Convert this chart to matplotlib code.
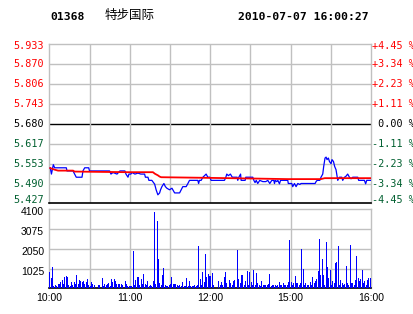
import matplotlib
matplotlib.use("Agg")
import matplotlib.pyplot as plt
import matplotlib.transforms as mtransforms
import numpy as np

stock_code = "01368"
stock_name = "特步国际"
stamp = "2010-07-07 16:00:27"

price_levels = [5.933, 5.870, 5.806, 5.743, 5.680, 5.617, 5.553, 5.490, 5.427]
price_labels = ["5.933", "5.870", "5.806", "5.743", "5.680", "5.617", "5.553", "5.490", "5.427"]
pct_labels = ["+4.45 %", "+3.34 %", "+2.23 %", "+1.11 %", " 0.00 %",
              "-1.11 %", "-2.23 %", "-3.34 %", "-4.45 %"]
level_kind = ["up", "up", "up", "up", "flat", "down", "down", "down", "down"]

vol_ticks = [1025, 2050, 3075, 4100]
vol_labels = ["1025", "2050", "3075", "4100"]
time_ticks = [0, 60, 120, 180, 240]
time_labels = ["10:00", "11:00", "12:00", "15:00", "16:00"]

# minutes since 10:00 (continuous trading minutes) and price
price_minutes = [0.7, 1.6, 3.0, 4.0, 12.7, 13.2, 17.7, 18.9, 20.1, 24.4, 25.1, 26.4, 29.4, 30.0,
                 30.9, 38.0, 45.0, 46.0, 47.5, 50.5, 52.7, 56.4, 57.2, 58.7, 59.4, 60.9,
                 61.6, 63.9, 66.1, 68.3, 71.1, 71.7, 73.6, 74.3, 76.5, 78.6, 79.7, 81.0,
                 82.3, 83.0, 84.0, 85.5, 86.6, 87.7, 89.7, 91.5, 93.5, 97.2, 98.4, 99.6,
                 102.1, 103.4, 104.6, 110.8, 111.4, 112.0, 113.3, 114.6, 117.0, 118.3,
                 119.8, 120.7, 130.7, 131.7, 132.4, 133.6, 135.1, 136.5, 137.7, 140.1,
                 140.6, 141.4, 142.7, 143.1, 146.1, 146.6, 151.8, 152.6, 153.5, 154.4,
                 155.5, 157.0, 159.3, 161.5, 163.0, 164.5, 166.0, 167.5, 168.0, 168.6,
                 169.7, 170.5, 171.7, 172.5, 177.9, 178.3, 180.9, 181.6, 182.9, 184.1,
                 185.4, 186.9, 187.8, 198.3, 199.0, 199.8, 201.8, 202.7, 204.0, 204.7,
                 205.7, 206.5, 207.2, 208.2, 209.0, 210.2, 210.9, 212.0, 212.9, 213.9,
                 214.7, 215.2, 216.4, 218.2, 218.9, 220.2, 221.1, 222.6, 223.9, 225.1,
                 226.4, 230.1, 230.8, 235.1, 236.0, 236.8, 239.8]
price_values = [5.540, 5.520, 5.550, 5.540, 5.540, 5.530, 5.530, 5.520, 5.510, 5.510, 5.530, 5.540,
                5.540, 5.530, 5.530, 5.530, 5.530, 5.520, 5.525, 5.520, 5.530, 5.530, 5.520,
                5.510, 5.520, 5.520, 5.525, 5.520, 5.523, 5.520, 5.520, 5.510, 5.510, 5.500,
                5.500, 5.488, 5.470, 5.454, 5.460, 5.470, 5.480, 5.490, 5.480, 5.475, 5.470,
                5.475, 5.460, 5.460, 5.470, 5.480, 5.480, 5.490, 5.500, 5.500, 5.490, 5.500,
                5.500, 5.510, 5.520, 5.510, 5.510, 5.500, 5.500, 5.510, 5.520, 5.515, 5.520,
                5.510, 5.510, 5.510, 5.500, 5.510, 5.520, 5.500, 5.500, 5.510, 5.510, 5.500,
                5.493, 5.500, 5.490, 5.500, 5.496, 5.496, 5.500, 5.490, 5.500, 5.500, 5.490,
                5.500, 5.496, 5.500, 5.489, 5.500, 5.500, 5.490, 5.490, 5.480, 5.490, 5.480,
                5.490, 5.487, 5.490, 5.490, 5.496, 5.500, 5.500, 5.510, 5.520, 5.544, 5.571,
                5.574, 5.566, 5.571, 5.560, 5.553, 5.566, 5.560, 5.544, 5.534, 5.512, 5.500,
                5.510, 5.510, 5.500, 5.510, 5.512, 5.520, 5.510, 5.505, 5.510, 5.510, 5.500,
                5.500, 5.489, 5.500, 5.500]

avg_minutes = [0.7, 4.0, 6.5, 17.7, 18.9, 37.8, 58.7, 77.3, 78.8, 81.0, 82.3, 83.5,
               118.3, 149.6, 177.9, 202.5, 205.5, 239.8]
avg_values = [5.539, 5.534, 5.531, 5.531, 5.528, 5.527, 5.526, 5.526, 5.521, 5.516, 5.512,
              5.510, 5.508, 5.506, 5.504, 5.504, 5.507, 5.507]

volumes = [830, 550, 1100, 140, 170, 100, 200, 240, 310, 415, 240, 590, 620, 590, 170, 100,
           310, 170, 310, 200, 690, 200, 415, 380, 310, 380, 200, 345, 485, 170, 100, 310,
           240, 170, 0, 0, 170, 170, 0, 550, 100, 240, 170, 240, 275, 100, 485, 345, 485,
           380, 240, 200, 240, 200, 170, 0, 380, 200, 140, 140, 100, 140,
           1940, 170, 415, 590, 590, 170, 485, 200, 725, 200, 170, 380, 140, 170, 100, 380,
           3980, 200, 3500, 1520, 275, 170, 690, 1040, 170, 140, 100, 170, 200, 590, 200,
           200, 200, 170, 100, 170, 100, 310, 100, 140, 520, 100, 380, 100, 100, 100, 170,
           140, 170, 2180, 485, 170, 830, 310, 1765, 590, 725, 620, 620, 780, 155, 0, 0, 0,
           400, 155, 330, 155, 570, 850, 290, 0, 430, 260, 155, 360, 430, 0, 1990, 465, 260,
           675, 710, 155, 360, 880, 155, 850, 330, 155, 950, 155, 780, 260, 155, 120, 400,
           155, 190, 155, 155, 225, 745, 120, 155, 190, 155, 120, 155, 330, 155, 155, 260,
           155, 190, 155, 330, 2510, 330, 155, 260, 640, 260, 260, 155, 290, 2060, 1020, 155,
           290, 155, 155, 330, 155, 600, 260, 360, 500, 880, 2540, 675, 1500, 710, 155, 2400,
           1090, 535, 950, 155, 360, 260, 1330, 1370, 2200, 155, 430, 260, 155, 225, 1160,
           290, 155, 2270, 290, 260, 155, 430, 1680, 535, 360, 500, 950, 290, 360, 155, 430,
           535, 535]

GRID = "#c0c0c0"
RED = "#ff0000"
GREEN = "#005f2f"
MONO = "DejaVu Sans Mono"
SANS = "Liberation Sans"

W, H = 414, 314
fig = plt.figure(figsize=(W / 100, H / 100), dpi=100)
fig.patch.set_facecolor("white")

L, R = 49.3, 371.0
ax = fig.add_axes([L / W, 1 - 203.3 / H, (R - L) / W, (203.3 - 44.3) / H])
axv = fig.add_axes([L / W, 1 - 288.3 / H, (R - L) / W, (288.3 - 209.3) / H])

# ---- price panel
ax.set_xlim(0, 240)
ax.set_ylim(price_levels[-1], price_levels[0])
for lv, kind in zip(price_levels[1:-1], level_kind[1:-1]):
    ax.axhline(lv, color="black" if kind == "flat" else GRID, lw=1.0, zorder=1)
for t in range(30, 240, 30):
    ax.axvline(t, color=GRID, lw=1.0, zorder=1)
for side in ["top", "left", "right"]:
    ax.spines[side].set_color(GRID)
    ax.spines[side].set_linewidth(1.0)
ax.spines["bottom"].set_color("black")
ax.spines["bottom"].set_linewidth(1.2)
ax.set_xticks([])
ax.set_yticks([])

ax.plot(price_minutes, price_values, color="#0000ff", lw=0.9, zorder=3)
ax.plot(avg_minutes, avg_values, color=RED, lw=1.3, zorder=4)

color_of = {"up": RED, "flat": "black", "down": GREEN}
ytr = ax.get_yaxis_transform()
n = len(price_levels)
for i, (lv, lbl, pl, kind) in enumerate(zip(price_levels, price_labels, pct_labels, level_kind)):
    c = color_of[kind]
    dy = -1.5 if i == 0 else (3 if i == n - 1 else 0)
    tr = mtransforms.offset_copy(ytr, fig=fig, x=0, y=dy, units="dots")
    ax.text(-0.016, lv, lbl, transform=tr, ha="right", va="center",
            color=c, fontfamily=MONO, fontsize=7.3)
    ax.text(1.003, lv, pl, transform=tr, ha="left", va="center",
            color=c, fontfamily=MONO, fontsize=7.3)

# ---- volume panel
axv.set_xlim(0, 240)
axv.set_ylim(0, vol_ticks[-1])
for v in vol_ticks[:-1]:
    axv.axhline(v, color=GRID, lw=1.0, zorder=1)
for t in range(30, 240, 30):
    axv.axvline(t, color=GRID, lw=1.0, zorder=1)
for side in ["top", "left", "right"]:
    axv.spines[side].set_color(GRID)
    axv.spines[side].set_linewidth(1.0)
axv.spines["bottom"].set_color("black")
axv.spines["bottom"].set_linewidth(1.2)
axv.set_xticks([])
axv.set_yticks([])
axv.bar(np.arange(len(volumes)) + 0.5, volumes, width=0.75, color="#0000ff", zorder=3)

vtr = mtransforms.offset_copy(axv.get_yaxis_transform(), fig=fig, x=0, y=-3, units="dots")
for v, lbl in zip(vol_ticks, vol_labels):
    axv.text(-0.016, v, lbl, transform=vtr, ha="right", va="center",
             color="black", fontfamily=SANS, fontsize=7.5)
for t, lbl in zip(time_ticks, time_labels):
    axv.text(t, -0.125, lbl, transform=axv.get_xaxis_transform(), ha="center", va="center",
             color="black", fontfamily=SANS, fontsize=7.5)

# ---- header
ty = 1 - 16.5 / H
fig.text(50 / W, ty, stock_code, ha="left", va="center", fontfamily=MONO,
         fontweight="bold", fontsize=8.2)
fig.text(105 / W, ty + 0.004, stock_name, ha="left", va="center",
         fontfamily=["Noto Sans CJK SC", "DejaVu Sans"], fontsize=9.0)
fig.text(237.7 / W, ty, stamp, ha="left", va="center", fontfamily=MONO,
         fontweight="bold", fontsize=8.2)

fig.savefig("out.png", dpi=100)
